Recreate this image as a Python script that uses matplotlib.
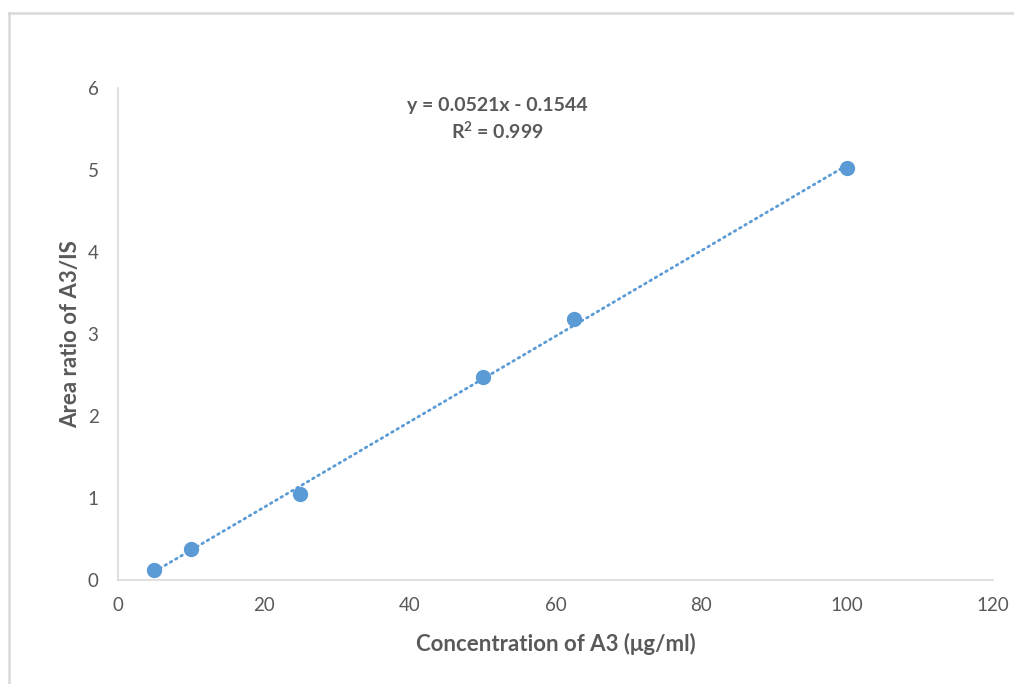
import numpy as np
import matplotlib.pyplot as plt
from matplotlib.lines import Line2D

conc = [5, 10, 25, 50, 62.5, 100]
ratio = [0.12, 0.38, 1.05, 2.48, 3.18, 5.02]
eq_text = "y = 0.0521x - 0.1544"
r2_text = "R$^{2}$ = 0.999"

blue = "#5B9BD5"
grey_txt = "#595959"
grey_line = "#D9D9D9"

plt.rcParams['font.family'] = ['Lato', 'DejaVu Sans']
plt.rcParams['mathtext.fontset'] = 'custom'
plt.rcParams['mathtext.rm'] = 'Lato:bold'
plt.rcParams['mathtext.it'] = 'Lato:bold'

fig = plt.figure(figsize=(10.14, 6.84), dpi=100)
ax = fig.add_axes([0.1164, 0.152, 0.8629, 0.7193])

# linear trendline through the points
slope, icpt = np.polyfit(conc, ratio, 1)
xs = np.array([min(conc), max(conc)])
ax.plot(xs, slope * xs + icpt, color=blue, linewidth=2, linestyle=(0, (0.6, 1.6)),
        dash_capstyle='round', zorder=2)
ax.plot(conc, ratio, 'o', color=blue, markersize=10, zorder=3)

ax.set_xlim(0, 120)
ax.set_ylim(0, 6)
ax.set_xticks(range(0, 121, 20))
ax.set_yticks(range(0, 7))
for s in ['top', 'right']:
    ax.spines[s].set_visible(False)
for s in ['left', 'bottom']:
    ax.spines[s].set_color(grey_line)
    ax.spines[s].set_linewidth(1.2)
ax.tick_params(axis='both', length=0, labelsize=13.5, labelcolor=grey_txt)
ax.tick_params(axis='y', pad=14)
ax.tick_params(axis='x', pad=12)

ax.set_xlabel("Concentration of A3 (μg/ml)", fontsize=16, fontweight='bold',
              color=grey_txt, labelpad=14)
ax.set_ylabel("Area ratio of A3/IS", fontsize=16, fontweight='bold',
              color=grey_txt, labelpad=5)

ax.text(0.433, 0.964, eq_text, transform=ax.transAxes, ha='center', va='center',
        fontsize=14, fontweight='bold', color=grey_txt)
ax.text(0.433, 0.912, r2_text, transform=ax.transAxes, ha='center', va='center',
        fontsize=14, fontweight='bold', color=grey_txt)

# chart area border (partly cropped in the reference)
fig.add_artist(Line2D([0.009, 1.0], [0.981, 0.981], transform=fig.transFigure,
                      color=grey_line, linewidth=1.8))
fig.add_artist(Line2D([0.009, 0.009], [0.0, 0.981], transform=fig.transFigure,
                      color=grey_line, linewidth=1.8))

fig.savefig("out.png", dpi=100)
